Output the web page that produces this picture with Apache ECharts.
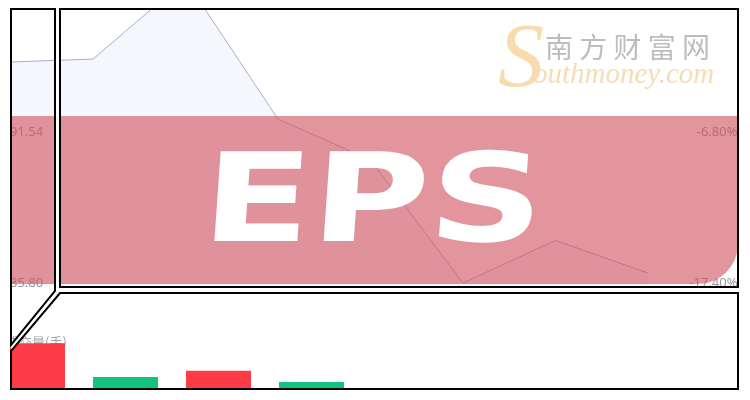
<!DOCTYPE html>
<html>
<head>
<meta charset="utf-8">
<script src="https://cdn.jsdelivr.net/npm/echarts@6/dist/echarts.min.js"></script>
<style>html,body{margin:0;padding:0;background:#fff}#c{width:750px;height:400px}</style>
</head>
<body>
<div id="c"></div>
<script>
// ---- data ----
var categories = ['T1', 'T2', 'T3', 'T4', 'T5', 'T6', 'T7', 'T8', 'T9'];
var changePct = [-1.91, -1.68, 3.87, -5.89, -8.77, -17.40, -14.41, -16.70, null];
var pctTicks = [-17.40, -6.80];
var priceTicks = [35.80, 91.54];
var volCategories = ['V1', 'V2', 'V3', 'V4', 'V5', 'V6', 'V7', 'V8'];
var volumes = [45800, 12100, 18300, 6900];
var volDirection = ['up', 'down', 'up', 'down'];
var volumeTitle = '成交量(手)';
var titleText = 'EPS';
var brandCn = '南 方 财 富 网';
var brandEn = 'outhmoney.com';

// ---- axis ranges matched to the tick label positions ----
var pctPerPx = (pctTicks[1] - pctTicks[0]) / 151;

var chart = echarts.init(document.getElementById('c'));
var upColor = '#fd3c47', downColor = '#12c27d';

chart.setOption({
  animation: false,
  grid: [
    { left: 0.5, right: 9.5, top: 9, height: 278 },
    { left: 32.5, right: 66.5, top: 289, height: 100 }
  ],
  xAxis: [
    { type: 'category', gridIndex: 0, data: categories, boundaryGap: false,
      axisLine: { show: false }, axisTick: { show: false }, axisLabel: { show: false }, splitLine: { show: false } },
    { type: 'category', gridIndex: 1, data: volCategories, boundaryGap: false,
      axisLine: { show: false }, axisTick: { show: false }, axisLabel: { show: false } }
  ],
  yAxis: [
    { type: 'value', gridIndex: 0, position: 'right',
      min: pctTicks[0] - 4 * pctPerPx, max: pctTicks[1] + 123 * pctPerPx,
      axisLine: { show: false }, axisTick: { show: false }, splitLine: { show: false },
      axisLabel: { inside: true, margin: 3, color: '#999', fontSize: 13, fontFamily: 'Noto Sans',
        customValues: pctTicks, formatter: function (v) { return v.toFixed(2) + '%'; } } },
    { type: 'value', gridIndex: 1, min: 0, max: 100000, show: false }
  ],
  series: [
    { type: 'line', xAxisIndex: 0, yAxisIndex: 0, data: changePct, symbol: 'none', clip: true,
      lineStyle: { color: '#a6acd6', width: 1 },
      areaStyle: { origin: 'start', color: '#f6f7fd', opacity: 1 }, z: 2 },
    { type: 'bar', xAxisIndex: 1, yAxisIndex: 1, barWidth: 65, z: 2, clip: false,
      data: volumes.map(function (v, i) {
        return { value: v, itemStyle: { color: volDirection[i] === 'up' ? upColor : downColor } };
      }) }
  ]
});

// left-side price labels share the rows of the percentage ticks
var priceLabels = priceTicks.map(function (v, i) {
  var pt = chart.convertToPixel({ seriesIndex: 0 }, [0, pctTicks[i]]);
  var py = (pt && isFinite(pt[1])) ? pt[1] : (i === 0 ? 283 : 132);
  return { type: 'text', z: 4, style: { text: v.toFixed(2), x: 10, y: py, fill: '#999',
    font: '13px "Noto Sans"', textVerticalAlign: 'middle' } };
});

chart.setOption({
  graphic: priceLabels.concat([
    { type: 'text', z: 0, style: { text: volumeTitle, x: 6, y: 342, fill: '#a0a0a0',
        font: '13px "Noto Sans CJK SC"', textVerticalAlign: 'middle' } },
    { type: 'text', z: 5, x: 498, y: 108, style: { text: 'S', x: 0, y: 0, fill: '#f9dcae',
        font: 'italic 92px "Liberation Serif"', textVerticalAlign: 'bottom' } },
    { type: 'text', z: 5, style: { text: brandCn, x: 545, y: 47, fill: '#bdbdbd',
        font: '28px "Noto Sans CJK SC"', textVerticalAlign: 'middle' } },
    { type: 'text', z: 5, style: { text: brandEn, x: 533, y: 75, fill: '#f6dcb4',
        font: 'italic 29px "Liberation Serif"', textVerticalAlign: 'middle' } },
    { type: 'rect', z: 10, shape: { x: 11, y: 116, width: 727, height: 168, r: [0, 0, 40, 0] },
      style: { fill: 'rgba(208,78,92,0.6)' } },
    { type: 'text', z: 20, x: 202, y: 209, scaleX: 1.3, skewX: -0.07,
      style: { text: titleText, x: 0, y: 0, fill: '#ffffff',
        font: 'bold 123px "DejaVu Sans"', textVerticalAlign: 'middle' } },
    { type: 'rect', z: 50, shape: { x: 0, y: 0, width: 10, height: 400 }, style: { fill: '#fff' } },
    { type: 'rect', z: 50, shape: { x: 739, y: 0, width: 11, height: 400 }, style: { fill: '#fff' } },
    { type: 'rect', z: 50, shape: { x: 0, y: 0, width: 750, height: 8 }, style: { fill: '#fff' } },
    { type: 'rect', z: 50, shape: { x: 0, y: 390, width: 750, height: 10 }, style: { fill: '#fff' } },
    { type: 'polyline', z: 60, shape: { points: [[57.5, 9], [57.5, 290], [740, 290]] },
      style: { stroke: '#fff', lineWidth: 4, fill: null } },
    { type: 'line', z: 60, shape: { x1: 57.5, y1: 290, x2: 11, y2: 348 },
      style: { stroke: '#fff', lineWidth: 4 } },
    { type: 'polygon', z: 70, shape: { points: [[11, 9], [55, 9], [55, 291], [11, 345]] },
      style: { stroke: '#000', lineWidth: 2, fill: null } },
    { type: 'rect', z: 70, shape: { x: 60, y: 9, width: 678, height: 278 },
      style: { stroke: '#000', lineWidth: 2, fill: null } },
    { type: 'polygon', z: 70, shape: { points: [[60, 293], [738, 293], [738, 389], [11, 389], [11, 351]] },
      style: { stroke: '#000', lineWidth: 2, fill: null } }
  ])
});
</script>
</body>
</html>
